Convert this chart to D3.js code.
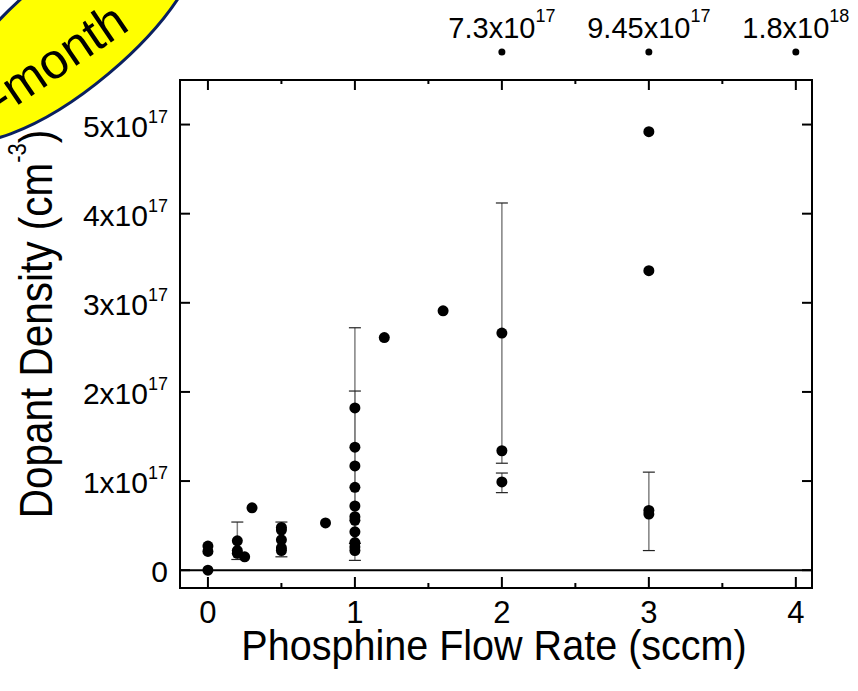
<!DOCTYPE html>
<html>
<head>
<meta charset="utf-8">
<script src="https://cdn.jsdelivr.net/npm/d3@7"></script>
<style>
  body { margin: 0; background: #fff; }
  svg text { font-family: "Liberation Sans", Arial, sans-serif; fill: #000; }
</style>
</head>
<body>
<div class="chart"></div>
<script>
// flow rate (sccm) / dopant density (x10^17 cm^-3)
const flowRates = [0, 0, 0, 0.2, 0.2, 0.2, 0.25, 0.3, 0.5, 0.5, 0.5, 0.5, 0.5, 0.8,
  1, 1, 1, 1, 1, 1, 1, 1, 1, 1, 1, 1.2, 1.6, 2, 2, 2, 3, 3, 3, 3];
const densities = [0.27, 0.21, 0, 0.33, 0.22, 0.19, 0.15, 0.70, 0.48, 0.45, 0.34, 0.25, 0.22, 0.53,
  1.82, 1.38, 1.17, 0.93, 0.72, 0.60, 0.56, 0.43, 0.31, 0.26, 0.22, 2.61, 2.91, 2.66, 1.34, 0.99,
  4.92, 3.36, 0.67, 0.63];

// error bars
const errX = [0.2, 0.5, 1, 1, 2, 2, 3];
const errLow = [0.12, 0.15, 0.11, 0.30, 1.20, 0.87, 0.22];
const errHigh = [0.54, 0.54, 2.72, 2.01, 4.12, 1.09, 1.10];

// points off the top of the scale
const offX = [2, 3, 4];
const offLabels = [["7.3x10", "17"], ["9.45x10", "17"], ["1.8x10", "18"]];

const xTicks = [0, 1, 2, 3, 4];
const xMinorTicks = [0.5, 1.5, 2.5, 3.5];
const yTicks = [0, 1, 2, 3, 4, 5];

const width = 858, height = 691;
const plotLeft = 180, plotRight = 812, plotTop = 80, plotBottom = 588;

const svg = d3.select(".chart").append("svg")
  .attr("width", width)
  .attr("height", height);

// yellow note ellipse, top left corner
svg.append("ellipse")
  .attr("cx", 72).attr("cy", 30)
  .attr("rx", 160).attr("ry", 57)
  .attr("transform", "rotate(-40, 72, 30)")
  .attr("fill", "#ffff00")
  .attr("stroke", "#0a2060")
  .attr("stroke-width", 3);

svg.append("text")
  .attr("transform", "translate(2, 116) rotate(-34)")
  .style("font-size", "50px")
  .text("-month");

const x = d3.scaleLinear().domain([-0.19, 4.11]).range([plotLeft, plotRight]);
const y = d3.scaleLinear().domain([-0.2, 5.5]).range([plotBottom, plotTop]);

// zero line
svg.append("line")
  .attr("x1", plotLeft).attr("x2", plotRight)
  .attr("y1", y(0)).attr("y2", y(0))
  .attr("stroke", "#000").attr("stroke-width", 2);

// ticks, all pointing inward
const tickG = svg.append("g").attr("stroke", "#000").attr("stroke-width", 2);
yTicks.forEach(t => {
  tickG.append("line").attr("x1", plotLeft).attr("x2", plotLeft + 10).attr("y1", y(t)).attr("y2", y(t));
  tickG.append("line").attr("x1", plotRight).attr("x2", plotRight - 10).attr("y1", y(t)).attr("y2", y(t));
});
xTicks.forEach(t => {
  tickG.append("line").attr("x1", x(t)).attr("x2", x(t)).attr("y1", plotBottom).attr("y2", plotBottom - 11);
  tickG.append("line").attr("x1", x(t)).attr("x2", x(t)).attr("y1", plotTop).attr("y2", plotTop + 10);
});
xMinorTicks.forEach(t => {
  tickG.append("line").attr("x1", x(t)).attr("x2", x(t)).attr("y1", plotBottom).attr("y2", plotBottom - 5);
  tickG.append("line").attr("x1", x(t)).attr("x2", x(t)).attr("y1", plotTop).attr("y2", plotTop + 4);
});

// frame
svg.append("rect")
  .attr("x", plotLeft).attr("y", plotTop)
  .attr("width", plotRight - plotLeft).attr("height", plotBottom - plotTop)
  .attr("fill", "none").attr("stroke", "#000").attr("stroke-width", 2);

// y tick labels
yTicks.forEach(t => {
  const lbl = svg.append("text")
    .attr("x", 168).attr("y", y(t) + 12)
    .attr("text-anchor", "end")
    .style("font-size", "30px");
  if (t === 0) {
    lbl.text("0");
  } else {
    lbl.append("tspan").text(t + "x10");
    lbl.append("tspan").attr("dy", -14).style("font-size", "18px").text("17");
  }
});

// x tick labels
xTicks.forEach(t => {
  svg.append("text")
    .attr("x", x(t)).attr("y", 623)
    .attr("text-anchor", "middle")
    .style("font-size", "31px")
    .text(t);
});

// axis titles (the originals are a little narrow)
svg.append("text")
  .attr("transform", "translate(494, 660) scale(0.92, 1)")
  .attr("text-anchor", "middle")
  .style("font-size", "43px")
  .text("Phosphine Flow Rate (sccm)");

const yTitle = svg.append("text")
  .attr("transform", "translate(52, 324) rotate(-90) scale(0.88, 1)")
  .attr("text-anchor", "middle")
  .style("font-size", "46px");
yTitle.append("tspan").text("Dopant Density (cm");
yTitle.append("tspan").attr("dy", -26).style("font-size", "25px").text("-3");
yTitle.append("tspan").attr("dy", 26).text(")");

// error bars
const errG = svg.append("g");
errX.forEach((ex, i) => {
  errG.append("line")
    .attr("x1", x(ex)).attr("x2", x(ex))
    .attr("y1", y(errLow[i])).attr("y2", y(errHigh[i]))
    .attr("stroke", "#808080").attr("stroke-width", 1.5);
  [errLow[i], errHigh[i]].forEach(v => {
    errG.append("line")
      .attr("x1", x(ex) - 6).attr("x2", x(ex) + 6)
      .attr("y1", y(v)).attr("y2", y(v))
      .attr("stroke", "#222").attr("stroke-width", 1.2);
  });
});

// data points
svg.append("g")
  .selectAll("circle")
  .data(flowRates)
  .enter()
  .append("circle")
  .attr("cx", (d) => x(d))
  .attr("cy", (d, i) => y(densities[i]))
  .attr("r", 5.5)
  .attr("fill", "#000");

// off-scale points and their values
offX.forEach((ox, i) => {
  svg.append("circle")
    .attr("cx", x(ox)).attr("cy", 52)
    .attr("r", 3.5).attr("fill", "#000");
  const lbl = svg.append("text")
    .attr("x", x(ox)).attr("y", 38)
    .attr("text-anchor", "middle")
    .style("font-size", "29px");
  lbl.append("tspan").text(offLabels[i][0]);
  lbl.append("tspan").attr("dy", -16).style("font-size", "18px").text(offLabels[i][1]);
});
</script>
</body>
</html>
